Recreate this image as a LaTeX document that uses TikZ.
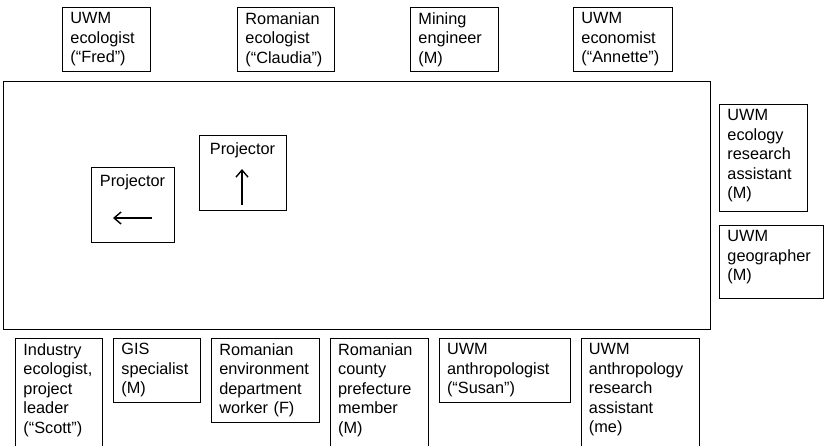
\documentclass[tikz,border=0pt]{standalone}
\usepackage{fontspec}
\setmainfont{Liberation Sans}
\usetikzlibrary{positioning,arrows.meta}

\newcommand{\rolefont}{\fontsize{16.3}{19.5}\selectfont}
\newcommand{\padbelow}[1]{\rule[-#1]{0pt}{#1}}

\begin{document}
\begin{tikzpicture}[x=1pt, y=-1pt, line width=0.9pt]
  \tikzstyle{role} = [draw, anchor=north west, align=left, inner xsep=8pt, inner ysep=5pt, font=\rolefont]
  \tikzstyle{projector} = [draw, minimum width=83pt, minimum height=75pt]
  \tikzstyle{projLabel} = [inner sep=0pt, font=\rolefont]
  \tikzstyle{pointer} = [-{Straight Barb[length=7pt,width=12pt]}, line width=1.4pt]

  \useasboundingbox (0,0) rectangle (825,445);

  % room
  \node[draw, anchor=north west, minimum width=707pt, minimum height=248pt] (room) at (3,81) {};

  % top row
  \node[role, text width=72pt] (fred) at (62,7) {UWM\\ecologist\\(“Fred”)};
  \node[role, text width=81pt] (claudia) at (237,7) {Romanian\\ecologist\\(“Claudia”)};
  \node[role, text width=72pt] (mining) at (410,7) {Mining\\engineer\\(M)};
  \node[role, text width=83pt] (annette) at (573,7) {UWM\\economist\\(“Annette”)};

  % right side
  \node[role, text width=72pt] (ecoRA) at (719,104) {UWM\\ecology\\research\\assistant\\(M)\padbelow{8pt}};
  \node[role, text width=88pt] (geog) at (719,225) {UWM\\geographer\\(M)\padbelow{13pt}};

  % bottom row (runs off the page)
  \node[role, text width=71pt] (scott) at (15,338) {Industry\\ecologist,\\project\\leader\\(“Scott”)\padbelow{14pt}};
  \node[role, text width=71pt, right=10pt of scott.north east, anchor=north west] (gis) {GIS\\specialist\\(M)};
  \node[role, text width=92pt, right=10pt of gis.north east, anchor=north west] (envWorker) {Romanian\\environment\\department\\worker (F)};
  \node[role, text width=82pt, right=10pt of envWorker.north east, anchor=north west] (county) {Romanian\\county\\prefecture\\member\\(M)\padbelow{14pt}};
  \node[role, text width=115pt, right=10pt of county.north east, anchor=north west] (susan) {UWM\\anthropologist\\(“Susan”)};
  \node[role, text width=102pt, right=10pt of susan.north east, anchor=north west] (anthRA) {UWM\\anthropology\\research\\assistant\\(me)\padbelow{14pt}};

  % projectors
  \node[projector] (projL) at (132.5,204.5) {};
  \node[projLabel, below=8pt of projL.north] (projLtext) {Projector};
  \coordinate (projLtail) at ([shift={(19.5,13.5)}]projL.center);
  \coordinate (projLhead) at ([shift={(-19.5,13.5)}]projL.center);
  \draw[pointer] (projLtail) -- (projLhead);

  \node[projector, minimum width=87pt] (projU) at (242.5,172.5) {};
  \node[projLabel, below=8pt of projU.north] (projUtext) {Projector};
  \coordinate (projUtail) at ([shift={(-0.5,32.5)}]projU.center);
  \coordinate (projUhead) at ([shift={(-0.5,-3.5)}]projU.center);
  \draw[pointer] (projUtail) -- (projUhead);
\end{tikzpicture}
\end{document}
